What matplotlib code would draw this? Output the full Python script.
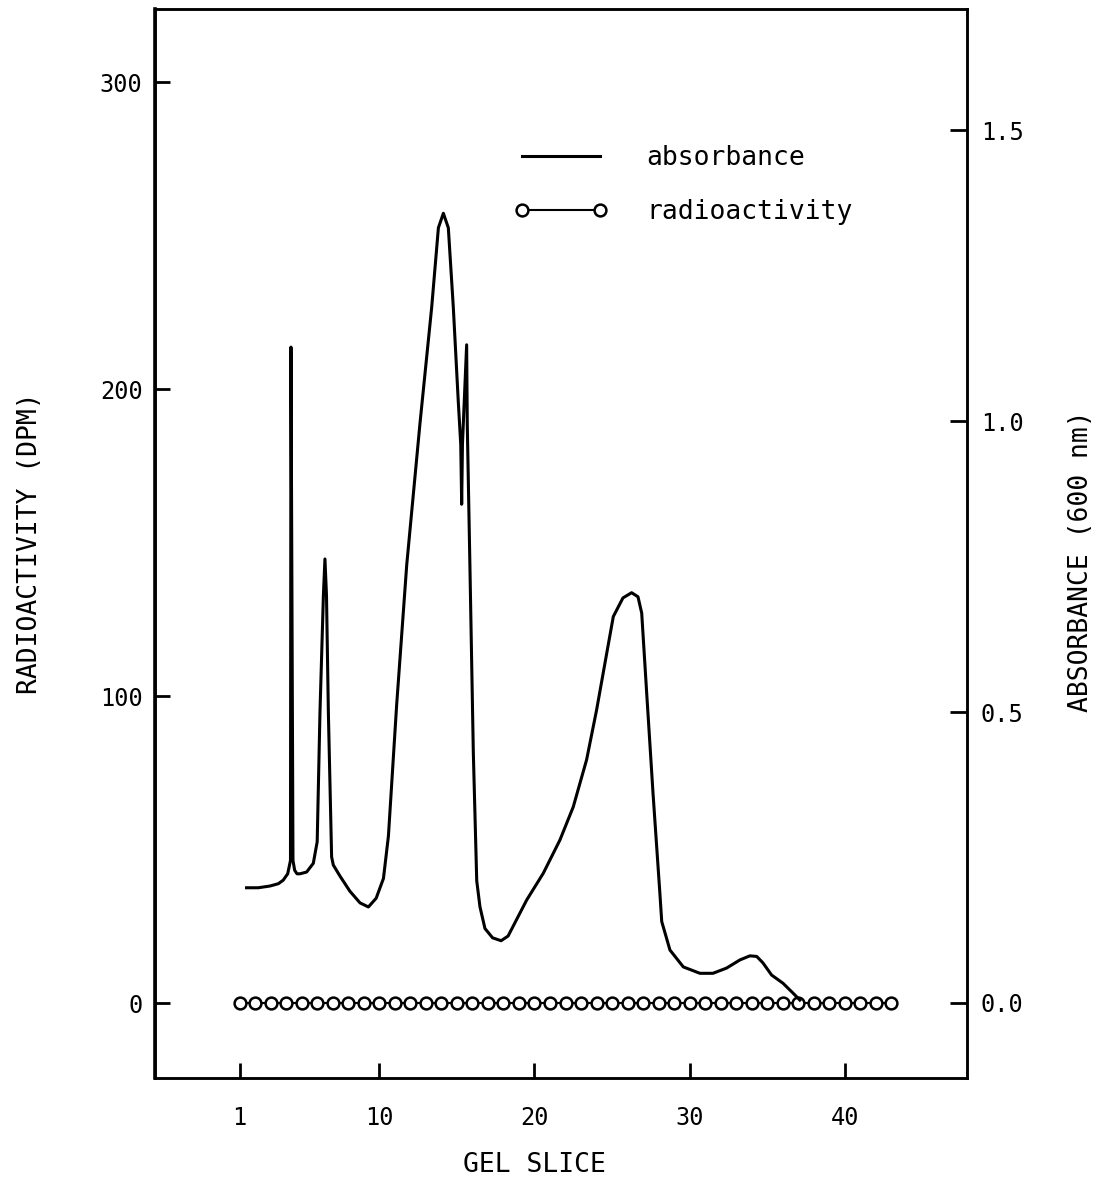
import numpy as np
import matplotlib
matplotlib.use('Agg')
import matplotlib.pyplot as plt

plt.rcParams['font.family'] = ['DejaVu Sans Mono']

# absorbance trace (gel slice, A600)
abs_x = [1.45, 2.2, 2.96, 3.5, 3.81, 4.1, 4.28, 4.31, 4.44, 4.55, 4.7, 4.89, 5.32, 5.75,
         6.0, 6.18, 6.4, 6.5, 6.6, 6.72, 6.93, 7.04, 7.47, 8.11, 8.76, 9.3, 9.8, 10.27,
         10.59, 11.12, 11.77, 12.62, 13.38, 13.81, 14.13, 14.45, 14.77, 15.09, 15.25,
         15.31, 15.36, 15.63, 15.67, 15.84, 16.06, 16.28, 16.49, 16.81, 17.3, 17.85,
         18.3, 19.5, 20.57, 21.64, 22.5, 23.36, 24.0, 24.65, 25.08, 25.7, 26.26, 26.67,
         26.91, 27.23, 27.64, 28.08, 28.2, 28.73, 29.59, 30.66, 31.5, 32.38, 33.24,
         33.88, 34.32, 34.72, 35.28, 36.01, 36.66, 37.1]
abs_y = [0.198, 0.198, 0.201, 0.205, 0.211, 0.222, 0.245, 1.127, 0.245, 0.228, 0.222,
         0.222, 0.225, 0.24, 0.277, 0.5, 0.70, 0.763, 0.70, 0.5, 0.251, 0.237, 0.218,
         0.192, 0.172, 0.165, 0.18, 0.214, 0.287, 0.512, 0.753, 0.995, 1.196, 1.332,
         1.357, 1.332, 1.196, 1.034, 0.96, 0.857, 0.96, 1.131, 0.995, 0.753, 0.431,
         0.21, 0.165, 0.128, 0.112, 0.107, 0.115, 0.177, 0.223, 0.28, 0.337, 0.418,
         0.503, 0.60, 0.664, 0.696, 0.705, 0.698, 0.67, 0.533, 0.36, 0.189, 0.14,
         0.091, 0.062, 0.051, 0.051, 0.060, 0.074, 0.081, 0.080, 0.069, 0.048, 0.034,
         0.017, 0.005]

# radioactivity per slice (DPM)
slices = np.arange(1, 44)
dpm = [0] * 43

fig = plt.figure(figsize=(11.07, 11.8), dpi=100)
ax = fig.add_axes([0.14002, 0.08644, 0.73351, 0.90593])
ax2 = ax.twinx()

l_rad, = ax.plot(slices, dpm, '-o', color='black', lw=1.5, ms=8.5,
                 mfc='white', mec='black', mew=1.8, label='radioactivity')
l_abs, = ax2.plot(abs_x, abs_y, color='black', lw=2.2, label='absorbance')

ax.set_xlim(-4.45, 47.87)
ax.set_ylim(-24.4, 323.8)
ax2.set_ylim(-0.1289, 1.708)

ax.set_xticks([1, 10, 20, 30, 40])
ax.set_yticks([0, 100, 200, 300])
ax2.set_yticks([0.0, 0.5, 1.0, 1.5])
ax2.set_yticklabels(['0.0', '0.5', '1.0', '1.5'])

ax.tick_params(axis='x', direction='in', length=11, width=2, labelsize=17, pad=20)
ax.tick_params(axis='y', direction='in', length=11, width=2, labelsize=17, pad=9)
ax2.tick_params(axis='y', direction='in', length=12, width=2, labelsize=17, pad=10)

for a in (ax, ax2):
    for s in a.spines.values():
        s.set_linewidth(1.8)
ax.spines['left'].set_linewidth(2.6)

ax.set_xlabel('GEL SLICE', fontsize=19)
ax.xaxis.set_label_coords(0.4668, -0.069)
ax.set_ylabel('RADIOACTIVITY (DPM)', fontsize=19)
ax.yaxis.set_label_coords(-0.138, 0.5005)
ax2.set_ylabel('ABSORBANCE (600 nm)', fontsize=19)
ax2.yaxis.set_label_coords(1.1244, 0.4836)

ax.legend([l_abs, l_rad], ['absorbance', 'radioactivity'], loc='upper left',
          bbox_to_anchor=(0.4421, 0.873), frameon=False, fontsize=19,
          handlelength=3.55, handletextpad=1.48, labelspacing=1.08,
          numpoints=2, borderpad=0, borderaxespad=0)

fig.savefig('out.png', dpi=100)
